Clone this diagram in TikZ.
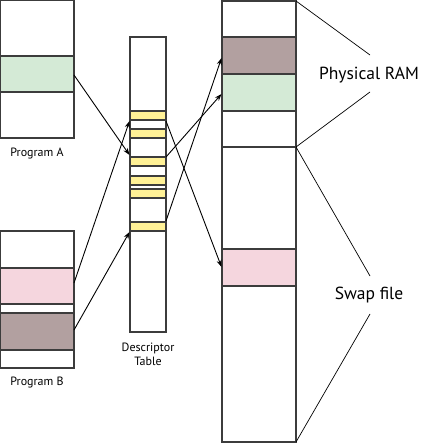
\documentclass[tikz,border=0pt]{standalone}
\usepackage{fontspec}
\setmainfont{PT Sans}
\usetikzlibrary{arrows.meta}
\definecolor{memgreen}{RGB}{212,234,214}
\definecolor{mempink}{RGB}{245,214,222}
\definecolor{membrown}{RGB}{178,160,160}
\definecolor{memyellow}{RGB}{255,241,150}
\definecolor{edge}{RGB}{60,60,60}
\tikzset{
  blk/.style={draw=edge, line width=1.1pt},
  band/.style={draw=edge, line width=1.1pt},
  arr/.style={draw=black, line width=0.9pt, -{Stealth[length=7pt,width=5pt]}},
  lead/.style={draw=black, line width=0.7pt},
  small/.style={font=\fontsize{12}{14}\selectfont, align=center},
  big/.style={font=\fontsize{17.5}{20}\selectfont}
}
\begin{document}
\begin{tikzpicture}[x=1pt,y=-1pt]
\useasboundingbox (0,0) rectangle (420,443);
% Program A
\draw[band, fill=memgreen] (0,56) rectangle (74,92);
\draw[blk] (0,0.5) rectangle (74,138);
\node[small] (pa) at (37,154) {Program A};
% Program B
\draw[band, fill=mempink] (0,268) rectangle (74,304);
\draw[band, fill=membrown] (0,313) rectangle (74,350);
\draw[blk] (0,231) rectangle (74,368);
\node[small] (pb) at (37,383) {Program B};
% Descriptor table
\foreach \a/\b in {111/120,129/138,157/166,176/185,189/198,222/231}
  \draw[band, fill=memyellow] (130,\a) rectangle (166,\b);
\draw[blk] (130,37) rectangle (166,332);
\node[small] (dt) at (148,354) {Descriptor\\Table};
% Physical memory column
\draw[band, fill=membrown] (222,37) rectangle (296,74);
\draw[band, fill=memgreen] (222,74) rectangle (296,111);
\draw[band, fill=mempink] (222,249) rectangle (296,286);
\draw[blk] (222,147) -- (296,147);
\draw[blk] (222,1) rectangle (296,442);
% coordinates
\coordinate (aout) at (74,75);
\coordinate (b1out) at (74,283);
\coordinate (b2out) at (74,330);
\coordinate (din1) at (129.5,155);
\coordinate (din2) at (129.5,121);
\coordinate (din3) at (129.5,232);
\coordinate (dout1) at (166,121);
\coordinate (dout2) at (166,157);
\coordinate (dout3) at (166,221);
\coordinate (rswap) at (221.5,267);
\coordinate (rgreen) at (221.5,94);
\coordinate (rbrown) at (221.5,58);
\draw[arr] (aout) -- (din1);
\draw[arr] (b1out) -- (din2);
\draw[arr] (b2out) -- (din3);
\draw[arr] (dout1) -- (rswap);
\draw[arr] (dout2) -- (rgreen);
\draw[arr] (dout3) -- (rbrown);
% labels
\node[big] (ram) at (369,75) {Physical RAM};
\node[big] (swap) at (369,295) {Swap file};
\coordinate (rt) at (296,1);
\coordinate (rm) at (296,147);
\coordinate (rb) at (296,442);
\draw[lead] (rt) -- (370,55);
\draw[lead] (rm) -- (370,92);
\draw[lead] (rm) -- (370,276);
\draw[lead] (rb) -- (370,314);
\end{tikzpicture}
\end{document}
